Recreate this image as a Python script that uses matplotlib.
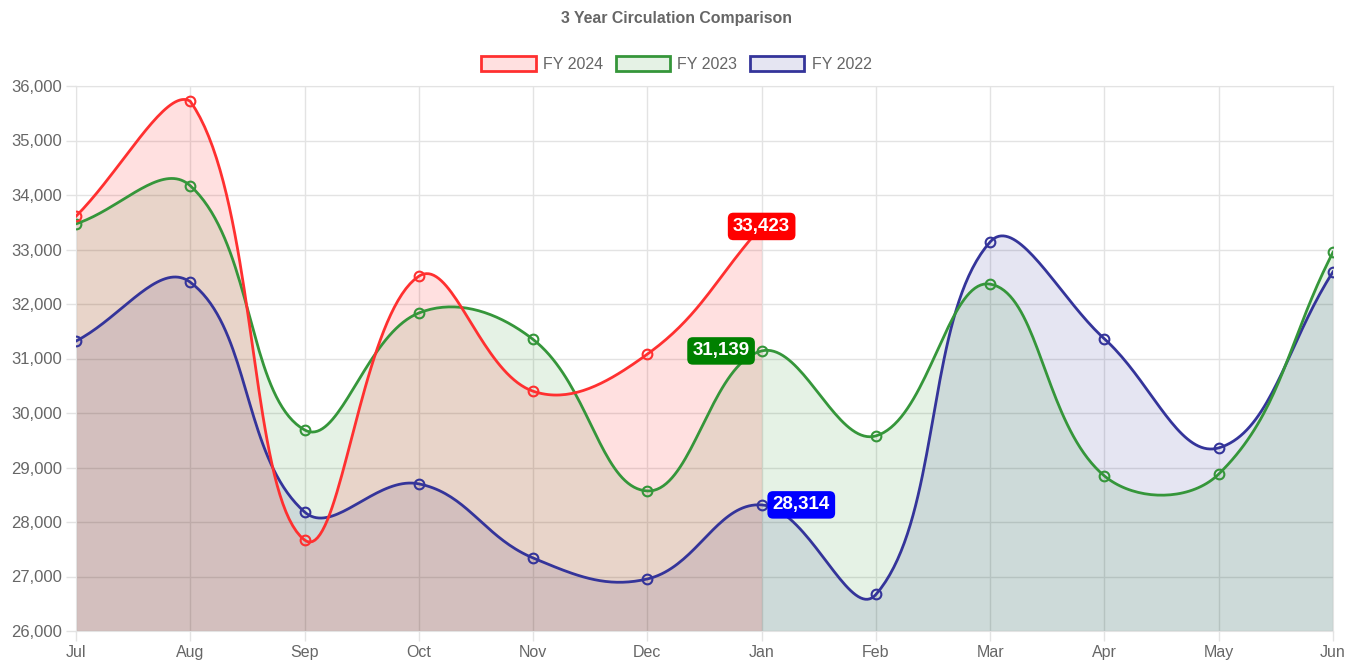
import numpy as np
import matplotlib.pyplot as plt
from matplotlib.patches import Patch

plt.rcParams['font.family'] = ['Liberation Sans', 'DejaVu Sans']

# data
months = ['Jul', 'Aug', 'Sep', 'Oct', 'Nov', 'Dec', 'Jan', 'Feb', 'Mar', 'Apr', 'May', 'Jun']
fy2024 = [33610, 35720, 27670, 32510, 30400, 31080, 33423]
fy2023 = [33470, 34170, 29690, 31835, 31350, 28570, 31139, 29580, 32365, 28845, 28880, 32950]
fy2022 = [31320, 32400, 28185, 28700, 27340, 26955, 28314, 26670, 33140, 31360, 29360, 32590]
yticks = np.arange(26000, 36001, 1000)

series = [
    ('FY 2024', fy2024, '#ff3030', (1, 0, 0, 0.12)),
    ('FY 2023', fy2023, '#35963a', (0, 0.5, 0, 0.10)),
    ('FY 2022', fy2022, '#34349a', (0, 0, 0.5, 0.10)),
]

fig = plt.figure(figsize=(13.53, 6.65), dpi=100)
ax = fig.add_axes([76 / 1353, 1 - 631 / 665, (1333 - 76) / 1353, (631 - 86) / 665])
ax.set_xlim(0, len(months) - 1)
ax.set_ylim(26000, 36000)


def spline(ys, t=0.4, n=40):
    # chart.js style cubic spline, control points in pixel space, capped to the plot area
    p = ax.transData.transform(np.column_stack([np.arange(len(ys)), ys]))
    box = ax.get_window_extent()
    lo = np.array([box.x0, box.y0])
    hi = np.array([box.x1, box.y1])
    m = len(p)
    c1, c2 = [], []
    for i in range(m):
        prev = p[max(i - 1, 0)]
        nxt = p[min(i + 1, m - 1)]
        d01 = np.hypot(*(p[i] - prev))
        d12 = np.hypot(*(nxt - p[i]))
        tot = d01 + d12
        s01 = d01 / tot if tot else 0
        s12 = d12 / tot if tot else 0
        c1.append(np.clip(p[i] - t * s01 * (nxt - prev), lo, hi))
        c2.append(np.clip(p[i] + t * s12 * (nxt - prev), lo, hi))
    out = [p[0]]
    u = np.linspace(0, 1, n)[1:, None]
    for i in range(m - 1):
        a, b, c, d = p[i], c2[i], c1[i + 1], p[i + 1]
        seg = (1 - u) ** 3 * a + 3 * (1 - u) ** 2 * u * b + 3 * (1 - u) * u ** 2 * c + u ** 3 * d
        out.extend(seg)
    out = ax.transData.inverted().transform(np.array(out))
    return out[:, 0], out[:, 1]


for label, ys, lc, fc in series[::-1]:
    sx, sy = spline(ys)
    ax.fill_between(sx, sy, 26000, color=fc, lw=0, zorder=1)
    ax.plot(sx, sy, color=lc, lw=2, zorder=3)
    ax.plot(range(len(ys)), ys, 'o', mfc='none', mec=lc, mew=1.5, ms=7, zorder=4)

# value labels at Jan
jan = 6
lab = dict(textcoords='offset pixels', va='center', color='white', fontsize=13.5,
           fontweight='bold', zorder=6)
ax.annotate(f'{fy2024[jan]:,}', (jan, fy2024[jan]), xytext=(0, 0), ha='center',
            bbox=dict(boxstyle='round,pad=0.28,rounding_size=0.3', fc='#ff0000', ec='none'), **lab)
ax.annotate(f'{fy2023[jan]:,}', (jan, fy2023[jan]), xytext=(-12, 0), ha='right',
            bbox=dict(boxstyle='round,pad=0.28,rounding_size=0.3', fc='#008000', ec='none'), **lab)
ax.annotate(f'{fy2022[jan]:,}', (jan, fy2022[jan]), xytext=(11, 0), ha='left',
            bbox=dict(boxstyle='round,pad=0.28,rounding_size=0.3', fc='#0000ff', ec='none'), **lab)

ax.set_xticks(range(len(months)))
ax.set_xticklabels(months)
ax.set_yticks(yticks)
ax.set_yticklabels([f'{v:,}' for v in yticks])
ax.grid(True, color='#e3e3e3', lw=1, zorder=0)
ax.set_axisbelow(True)
ax.tick_params(colors='#e3e3e3', labelcolor='#666666', labelsize=12, length=7, width=1, pad=3)
ax.tick_params(axis='x', labelsize=11.5)
for s in ax.spines.values():
    s.set_color('#e3e3e3')

handles = [Patch(facecolor=fc, edgecolor=lc, lw=2, label=label) for label, ys, lc, fc in series]
fig.legend(handles=handles, loc='center', bbox_to_anchor=(0.5, 1 - 64 / 665), ncol=3, frameon=False,
           fontsize=11.5, labelcolor='#666666', handlelength=3.4, handleheight=1.1,
           handletextpad=0.45, columnspacing=0.8)
fig.text(0.5, 1 - 19 / 665, '3 Year Circulation Comparison', ha='center', va='center',
         fontsize=11.4, fontweight='bold', color='#666666')

fig.savefig('out.png', dpi=100)
